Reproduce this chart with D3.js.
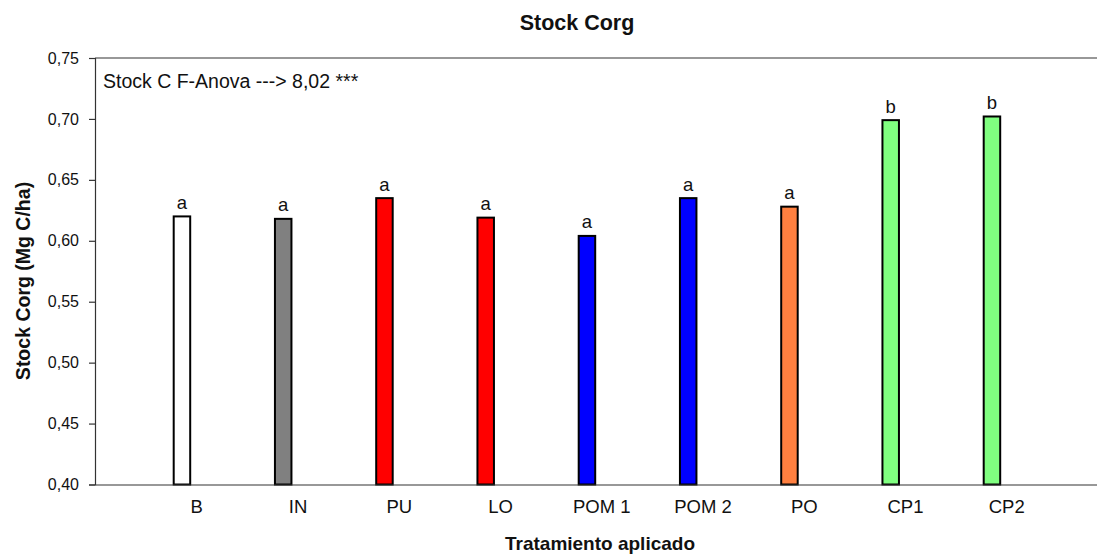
<!DOCTYPE html>
<html>
<head>
<meta charset="utf-8">
<script src="https://cdn.jsdelivr.net/npm/d3@7"></script>
<style>
  html, body { margin: 0; padding: 0; background: #fff; }
  svg { display: block; font-family: "Liberation Sans", Arial, sans-serif; }
</style>
</head>
<body>
<svg id="chart" width="1097" height="556"></svg>
<script>
const categories = ["B", "IN", "PU", "LO", "POM 1", "POM 2", "PO", "CP1", "CP2"];
const values = [0.620, 0.618, 0.635, 0.619, 0.604, 0.635, 0.628, 0.699, 0.702];
const letters = ["a", "a", "a", "a", "a", "a", "a", "b", "b"];
const colors = ["#ffffff", "#808080", "#ff0000", "#ff0000", "#0000ff", "#0000ff", "#ff8040", "#80ff80", "#80ff80"];
const yTicks = [0.40, 0.45, 0.50, 0.55, 0.60, 0.65, 0.70, 0.75];
const title = "Stock Corg";
const xTitle = "Tratamiento aplicado";
const yTitle = "Stock Corg (Mg C/ha)";
const note = "Stock C F-Anova ---> 8,02 ***";

(function () {
const svg = d3.select("#chart");
const pLeft = 95, pTop = 58, pBottom = 484.5, pRight = 1097;

const x = d3.scaleLinear().domain([0, categories.length + 1]).range([pLeft, 1107.5]);
const y = d3.scaleLinear().domain([0.40, 0.75]).range([pBottom, pTop]);
const barOffset = -14.3, barW = 16.5;
const fmt = d => d3.format(".2f")(d).replace(".", ",");

// top frame line
svg.append("line").attr("x1", pLeft).attr("x2", pRight).attr("y1", y(0.75)).attr("y2", y(0.75))
  .attr("stroke", "#333").attr("stroke-width", 1.2);

// bars
svg.append("g").selectAll("rect").data(values).join("rect")
  .attr("x", (d, i) => x(i + 1) + barOffset - barW / 2)
  .attr("width", barW)
  .attr("y", d => y(d))
  .attr("height", d => y(0.40) - y(d))
  .attr("fill", (d, i) => colors[i])
  .attr("stroke", "#000").attr("stroke-width", 2);

// letters
svg.append("g").selectAll("text").data(values).join("text")
  .attr("x", (d, i) => x(i + 1) + barOffset)
  .attr("y", d => y(d) - 7.5)
  .attr("text-anchor", "middle")
  .attr("font-size", 18.5)
  .attr("fill", "#111")
  .text((d, i) => letters[i]);

// y axis
const yAxis = d3.axisLeft(y).tickValues(yTicks).tickFormat(fmt).tickSizeOuter(0).tickSize(6).tickPadding(10);
const gy = svg.append("g").attr("transform", `translate(${pLeft},0)`).call(yAxis);
gy.select(".domain").attr("stroke", "#333").attr("stroke-width", 1.2);
gy.selectAll(".tick line").attr("stroke", "#333").attr("stroke-width", 1.2);
gy.selectAll(".tick text").attr("font-size", 16).attr("font-family", "Liberation Sans, Arial, sans-serif").attr("fill", "#111");

// x axis
const xAxis = d3.axisBottom(x).tickValues(d3.range(1, categories.length + 1))
  .tickFormat(i => categories[i - 1]).tickSize(0).tickSizeOuter(0).tickPadding(15);
const gx = svg.append("g").attr("transform", `translate(0,${pBottom})`).call(xAxis);
gx.select(".domain").attr("stroke", "#333").attr("stroke-width", 1.2);
gx.selectAll(".tick text").attr("font-size", 18.5).attr("font-family", "Liberation Sans, Arial, sans-serif").attr("fill", "#111");

// titles
svg.append("text").attr("x", 577).attr("y", 30).attr("text-anchor", "middle")
  .attr("font-size", 21.5).attr("font-weight", "bold").attr("fill", "#111").text(title);
svg.append("text").attr("x", 600).attr("y", 550).attr("text-anchor", "middle")
  .attr("font-size", 19).attr("font-weight", "bold").attr("fill", "#111").text(xTitle);
svg.append("text").attr("transform", "translate(30,281) rotate(-90)").attr("text-anchor", "middle")
  .attr("font-size", 19.5).attr("font-weight", "bold").attr("fill", "#111").text(yTitle);

// annotation
svg.append("text").attr("x", 103).attr("y", 88).attr("font-size", 19.5).attr("fill", "#111").text(note);
})();
</script>
</body>
</html>
